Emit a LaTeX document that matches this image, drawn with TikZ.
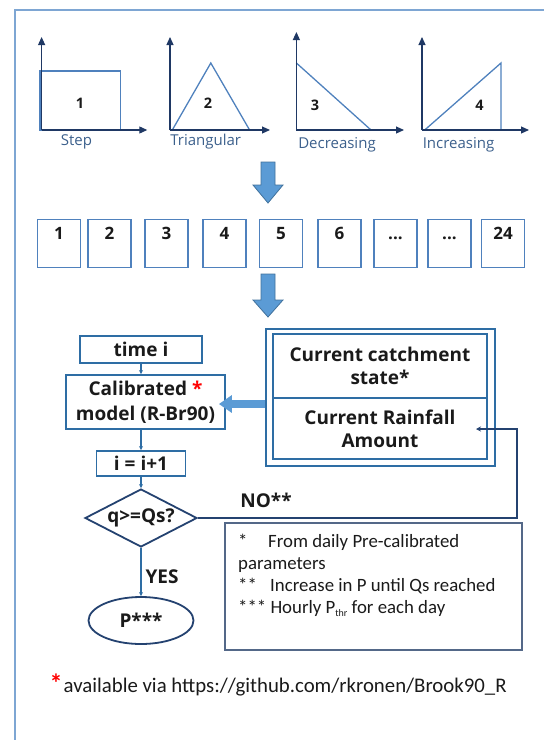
\documentclass[tikz,border=0pt]{standalone}
\usepackage{fontspec}
\setmainfont{Open Sans}
\newfontfamily\calib{Carlito}
\usetikzlibrary{arrows.meta,shapes.geometric}

\definecolor{axisnavy}{RGB}{31,56,100}
\definecolor{shapeblue}{RGB}{79,129,189}
\definecolor{labelblue}{RGB}{60,96,140}
\definecolor{flowblue}{RGB}{46,109,164}
\definecolor{darknavy}{RGB}{36,66,112}
\definecolor{arrowfill}{RGB}{91,155,213}
\definecolor{arrowedge}{RGB}{65,113,156}
\definecolor{framecol}{RGB}{126,166,211}
\definecolor{notegray}{RGB}{84,104,136}
\definecolor{inkcol}{RGB}{26,26,26}

\newcommand\slotdots{...}

\tikzset{
  chartaxis/.style={draw=axisnavy, line width=1.1pt, -{Triangle[length=8pt,width=7pt]}},
  chartshape/.style={draw=shapeblue, line width=1.3pt, line join=miter},
  chartnum/.style={font=\bfseries\fontsize{14.5}{16}\selectfont, text=inkcol, anchor=base, inner sep=0},
  chartname/.style={font=\fontsize{15}{18}\selectfont, text=labelblue, anchor=base, inner sep=0},
  hourbox/.style={draw=shapeblue, line width=1.3pt, minimum width=43pt, minimum height=48pt, inner sep=0},
  hournum/.style={font=\bfseries\fontsize{17}{20}\selectfont, text=inkcol, anchor=base, inner sep=0},
  blockarrow/.style={fill=arrowfill, draw=arrowedge, line width=0.8pt, line join=miter},
  flowfont/.style={font=\bfseries\fontsize{19}{#1}\selectfont, text=inkcol},
  flowbox/.style={draw=flowblue, line width=1.8pt, align=center, inner sep=0},
  flowlink/.style={draw=flowblue, line width=1.1pt, -{Stealth[length=4pt,width=4pt]}},
  fblink/.style={draw=darknavy, line width=1.3pt, -{Stealth[length=5pt,width=5pt]}},
  bigarrow/.style={draw=arrowfill, line width=8pt, -{Triangle[length=13pt,width=17pt]}},
  notetext/.style={font=\calib\fontsize{18.8}{22}\selectfont, text=inkcol, anchor=base west, inner sep=0},
}

\begin{document}
\begin{tikzpicture}[x=1pt,y=-1pt]
\useasboundingbox (0,0) rectangle (544,740);

% page frame (left and top edges)
\draw[framecol, line width=1.5pt] (15,740) -- (15,10) -- (544,10);

% ---- hyetograph shapes ----
% 1: step
\draw[chartshape] (39.9,71) rectangle (120.6,130);
\draw[chartaxis] (41.6,130) -- (41.6,37);
\draw[chartaxis] (41.6,130) -- (147.3,130);
\node[chartnum] (num1) at (80,108) {1};
\node[chartname] (name1) at (76.5,145) {Step};
% 2: triangular
\draw[chartshape] (172.3,130) -- (210.8,63) -- (249.6,130);
\draw[chartaxis] (170,130) -- (170,37);
\draw[chartaxis] (170,130) -- (270,130);
\node[chartnum] (num2) at (208,108) {2};
\node[chartname] (name2) at (205.7,145) {Triangular};
% 3: decreasing
\draw[chartshape] (296.4,63) -- (371,130);
\draw[chartaxis] (296.4,130) -- (296.4,32);
\draw[chartaxis] (296.4,130) -- (404,130);
\node[chartnum] (num3) at (315,110) {3};
\node[chartname] (name3) at (337,148) {Decreasing};
% 4: increasing
\draw[chartshape] (424.7,130) -- (501,63) -- (501,130);
\draw[chartaxis] (422,130) -- (422,37);
\draw[chartaxis] (422,130) -- (529,130);
\node[chartnum] (num4) at (479.5,110) {4};
\node[chartname] (name4) at (458.5,148) {Increasing};

% block arrow down to the hourly slots
\draw[blockarrow] (261,162) -- (275,162) -- (275,185) -- (283,185) -- (268,203)
  -- (253,185) -- (261,185) -- cycle;

% ---- hourly slots ----
\foreach \k/\x/\t in {1/59/1, 2/109.5/2, 3/166.5/3, 4/224.5/4, 5/281/5,
                      6/339.5/6, 7/395.5/\slotdots, 8/449.5/\slotdots, 9/503/24} {
  \node[hourbox] (hour\k) at (\x,243.5) {};
  \node[hournum] (hourtxt\k) at (\x,239) {\t};
}

% block arrow down to the flow chart
\draw[blockarrow] (261,274) -- (275,274) -- (275,300) -- (283,300) -- (268,317)
  -- (253,300) -- (261,300) -- cycle;

% ---- catchment state / rainfall block ----
\node[draw=flowblue, line width=1.5pt, minimum width=229pt, minimum height=137pt,
      inner sep=0] (rblock) at (380.5,397.5) {};
\node[flowbox, flowfont=23, line width=1.5pt, minimum width=214pt, minimum height=64pt]
      (state) at (380,366) {Current catchment\\state*};
\node[flowbox, flowfont=23, line width=1.5pt, minimum width=214pt, minimum height=61pt]
      (rain) at (380,428.5) {Current Rainfall\\Amount};

% ---- flow chart ----
\node[flowbox, flowfont=23, minimum width=122pt, minimum height=27pt]
      (timei) at (141,349.5) {time i};
\node[flowbox, flowfont=25, minimum width=159pt, minimum height=54pt]
      (calib) at (145.5,402) {Calibrated \textcolor{red}{*}\\model (R-Br90)};
\node[flowbox, flowfont=23, minimum width=89pt, minimum height=25pt]
      (inc) at (141,463.5) {i = i+1};
\node[diamond, aspect=2, draw=darknavy, line width=1.8pt, flowfont=23,
      minimum width=112pt, minimum height=58pt, inner sep=0]
      (dia) at (141,518) {q>=Qs?};
\node[ellipse, draw=darknavy, line width=1.8pt, flowfont=23,
      minimum width=105pt, minimum height=47pt, inner sep=0]
      (pout) at (141,620.5) {P***};

\draw[flowlink] (timei.south) -- (timei.south |- calib.north);
\draw[flowlink] (timei.south |- calib.south) -- (inc.north);
\draw[flowlink] (inc.south) -- (dia.north);
\draw[flowlink] (dia.south) -- (pout.north);

\node[flowfont=23, inner sep=0] (yes) at (162,577) {YES};
\node[flowfont=23, inner sep=0] (no) at (266,500) {NO**};

% state/rainfall feeds the model
\draw[bigarrow] ([yshift=-6.5pt]rblock.west) -- ([xshift=-7pt,yshift=-2pt]calib.east);

% loop back: raise the rainfall
\coordinate (fbturn) at (517,429);
\coordinate (fbend) at (476,429);
\draw[fblink] (dia.east) -| (fbturn) -- (fbend);

% ---- notes ----
\node[draw=notegray, line width=1.3pt, minimum width=297pt, minimum height=127pt,
      inner sep=0] (notes) at (373.5,586.5) {};
\node[notetext] (note1) at (238,547) {\makebox[30pt][l]{*}From daily Pre-calibrated};
\node[notetext] (note2) at (238,569) {parameters};
\node[notetext] (note3) at (238,591) {\makebox[32pt][l]{**}Increase in P until Qs reached};
\node[notetext] (note4) at (238,613)
      {*** Hourly P\raisebox{-3pt}{\fontsize{10}{10}\selectfont thr} for each day};

% source reference
\node[font=\calib\bfseries\fontsize{26}{26}\selectfont, text=red, anchor=base west,
      inner sep=0] (gitstar) at (49.5,692) {*};
\node[notetext, font=\calib\fontsize{20.8}{24}\selectfont] (gitref) at (63.5,692)
      {available via https://github.com/rkronen/Brook90\_R};
\end{tikzpicture}
\end{document}
